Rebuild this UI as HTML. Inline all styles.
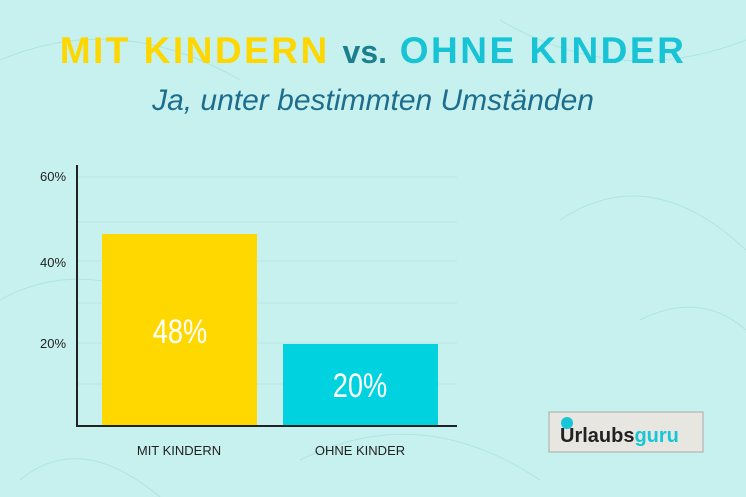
<!DOCTYPE html>
<html><head><meta charset="utf-8"><style>
body{margin:0;width:746px;height:497px;background:#c6f1ee;position:relative;overflow:hidden;font-family:"Liberation Sans",sans-serif}
.a{position:absolute}
</style></head><body>
<svg class="a" style="left:0;top:0" width="746" height="497">
<g stroke="#a8e2df" stroke-width="1" fill="none" opacity="0.8">
<path d="M0 60 Q120 10 240 80 M500 20 Q620 90 746 40 M0 300 Q90 250 200 320 M560 220 Q650 160 746 250 M300 460 Q420 400 540 480 M20 480 Q80 430 160 497 M640 320 Q700 290 746 330"/>
</g>
<g stroke="#b9e6e3" stroke-width="1">
<line x1="78" y1="177" x2="457" y2="177"/><line x1="78" y1="222" x2="457" y2="222"/>
<line x1="78" y1="261" x2="457" y2="261"/><line x1="78" y1="303" x2="457" y2="303"/>
<line x1="78" y1="343" x2="457" y2="343"/><line x1="78" y1="384" x2="457" y2="384"/>
</g>
<rect x="102" y="234" width="155" height="192" fill="#ffd800"/>
<rect x="283" y="344" width="155" height="82" fill="#00d2df"/>
<line x1="77" y1="165" x2="77" y2="427" stroke="#222" stroke-width="2"/>
<line x1="76" y1="426" x2="457" y2="426" stroke="#222" stroke-width="2"/>
<g font-family="Liberation Sans,sans-serif" font-size="13" fill="#222">
<text x="40" y="181">60%</text><text x="40" y="267">40%</text><text x="40" y="348">20%</text>
<text x="179" y="455" text-anchor="middle">MIT KINDERN</text>
<text x="360" y="455" text-anchor="middle">OHNE KINDER</text>
</g>
<g font-family="Liberation Sans Narrow,Liberation Sans,sans-serif" font-size="34" fill="#fff" text-anchor="middle">
<text x="0" y="0" transform="translate(180,343) scale(0.8,1)">48%</text>
<text x="0" y="0" transform="translate(360,397) scale(0.8,1)">20%</text>
</g>
<rect x="549" y="412" width="154" height="40" fill="#e8e6e0" stroke="#aaa"/>
<circle cx="567" cy="423" r="6" fill="#16c5d6"/>
<text x="560" y="442" font-family="Liberation Sans,sans-serif" font-weight="bold" font-size="20" fill="#222">Urlaubs<tspan fill="#16c5d6">guru</tspan></text>
</svg>
<div class="a" style="left:0;top:30px;width:746px;text-align:center;font-weight:bold;font-size:37px;letter-spacing:2.5px;white-space:nowrap">
<span style="color:#ffd700">MIT KINDERN</span> <span style="color:#1b7f8e;font-size:32px;letter-spacing:0">vs.</span> <span style="color:#17c3d4">OHNE KINDER</span></div>
<div class="a" style="left:0;top:84px;width:746px;text-align:center;font-style:italic;font-size:30px;color:#1f6d8c;white-space:nowrap">Ja, unter bestimmten Umständen</div>
</body></html>
